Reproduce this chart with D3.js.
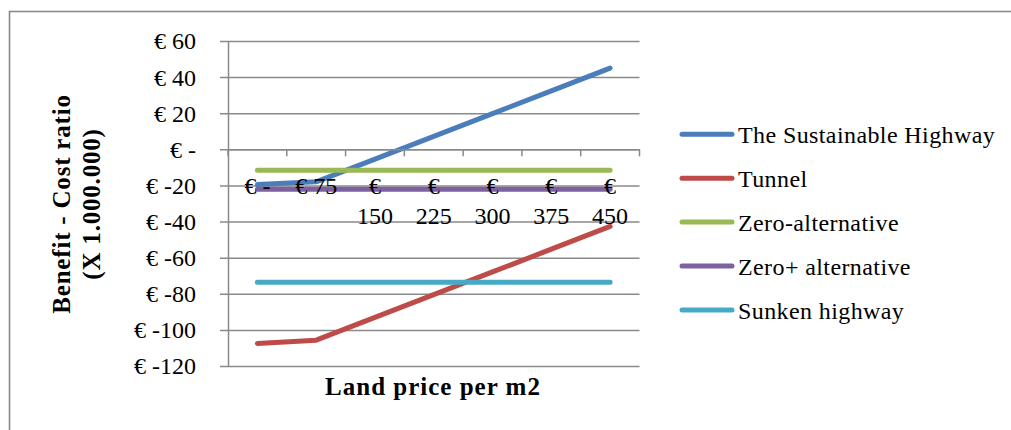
<!DOCTYPE html>
<html><head><meta charset="utf-8">
<script src="https://cdn.jsdelivr.net/npm/d3@7"></script>
<style>html,body{margin:0;padding:0;background:#fff;}svg{display:block;}</style>
</head><body>
<svg id="chart" width="1011" height="430"></svg>
<script>
// ---- data ----
const categories = [0, 75, 150, 225, 300, 375, 450];
const seriesNames = ["The Sustainable Highway", "Tunnel", "Zero-alternative", "Zero+ alternative", "Sunken highway"];
const sustainableHighway = [-19.5, -18, -5.4, 7.2, 19.8, 32.4, 45];
const tunnel = [-107.5, -105.7, -93.1, -80.5, -67.9, -55.3, -42.7];
const zeroAlternative = [-11.6, -11.6, -11.6, -11.6, -11.6, -11.6, -11.6];
const zeroPlusAlternative = [-22.1, -22.1, -22.1, -22.1, -22.1, -22.1, -22.1];
const sunkenHighway = [-73.6, -73.6, -73.6, -73.6, -73.6, -73.6, -73.6];
const yTicks = [60, 40, 20, 0, -20, -40, -60, -80, -100, -120];
const seriesColors = ["#4A7EBB", "#BE4B48", "#98B954", "#7D60A0", "#46AAC5"];
const yTitleLines = ["Benefit - Cost ratio", "(X 1.000.000)"];
const xTitle = "Land price per m2";

const series = [sustainableHighway, tunnel, zeroAlternative, zeroPlusAlternative, sunkenHighway]
  .map((v, i) => ({name: seriesNames[i], values: v, color: seriesColors[i]}));

const svg = d3.select("#chart");
const FONT = "'Liberation Serif', 'Times New Roman', serif";
const gridColor = "#8a8a8a";

// frame
svg.append("rect").attr("x", 9.5).attr("y", 11.5).attr("width", 1011).attr("height", 430)
  .attr("fill", "none").attr("stroke", "#8a8a8a").attr("stroke-width", 1.6);

const pLeft = 228, pRight = 639.5, pTop = 41, pBottom = 366;
const x = d3.scaleBand().domain(categories).range([pLeft, pRight]);
const y = d3.scaleLinear().domain([-120, 60]).range([pBottom, pTop]);

// y axis with gridlines
const yAxis = d3.axisLeft(y).tickValues(yTicks).tickSizeInner(-(pRight - pLeft)).tickSizeOuter(0)
  .tickFormat(d => d === 0 ? "€ -" : "€ " + d);
const gy = svg.append("g").attr("transform", `translate(${pLeft},0)`).call(yAxis);
gy.select(".domain").attr("stroke", gridColor).attr("stroke-width", 1.5);
gy.selectAll(".tick line").attr("stroke", gridColor).attr("stroke-width", 1.5).attr("x1", -8);
gy.selectAll(".tick text").attr("x", -32).attr("dy", "0.33em")
  .style("font-family", FONT).style("font-size", "24px").attr("fill", "#000");

// x axis at y = 0
const xAxis = d3.axisBottom(x).tickSize(0).tickFormat(d => d === 0 ? "€ -" : "€ " + d);
const gx = svg.append("g").attr("transform", `translate(0,${y(0)})`).call(xAxis);
gx.select(".domain").attr("stroke", gridColor).attr("stroke-width", 1.5);
// tick marks between categories
gx.selectAll(".bound").data(categories.concat([null])).enter().append("line")
  .attr("class", "bound")
  .attr("x1", (d, i) => pLeft + i * x.step()).attr("x2", (d, i) => pLeft + i * x.step())
  .attr("y1", 0).attr("y2", 7).attr("stroke", gridColor).attr("stroke-width", 1.5);

// series lines
const line = d3.line().x((d, i) => x(categories[i]) + x.bandwidth() / 2).y(d => y(d));
svg.append("g").selectAll("path").data(series).enter().append("path")
  .attr("d", d => line(d.values)).attr("fill", "none")
  .attr("stroke", d => d.color).attr("stroke-width", 5).attr("stroke-linecap", "round").attr("stroke-linejoin", "round");

// x tick labels (drawn above lines, wrapped when too wide)
gx.raise();
gx.selectAll(".tick text").each(function(d) {
  const t = d3.select(this);
  const label = t.text();
  t.text(null).attr("y", 45).attr("dy", null)
    .style("font-family", FONT).style("font-size", "24px").attr("fill", "#000");
  const parts = String(d).length > 2 ? label.split(" ") : [label];
  parts.forEach((p, i) => t.append("tspan").attr("x", 0).attr("y", 45 + i * 30).text(p));
});

// y title
const yt = svg.append("text").attr("transform", "translate(0,204) rotate(-90)")
  .attr("text-anchor", "middle").style("font-family", FONT).style("font-size", "25px")
  .style("font-weight", "bold").style("letter-spacing", "0.8px").attr("fill", "#000");
yTitleLines.forEach((l, i) => yt.append("tspan").attr("x", 0).attr("y", 70 + i * 30).text(l));

// x title
svg.append("text").attr("x", 433).attr("y", 395).attr("text-anchor", "middle")
  .style("font-family", FONT).style("font-size", "25px").style("font-weight", "bold")
  .style("letter-spacing", "1px").attr("fill", "#000").text(xTitle);

// legend
const lg = svg.append("g").selectAll("g").data(series).enter().append("g")
  .attr("transform", (d, i) => `translate(680,${134.3 + i * 43.9})`);
lg.append("line").attr("x1", 2).attr("x2", 52).attr("stroke", d => d.color)
  .attr("stroke-width", 5).attr("stroke-linecap", "round");
lg.append("text").attr("x", 58).attr("y", 9).style("font-family", FONT).style("font-size", "24px")
  .style("letter-spacing", "0.4px").attr("fill", "#000").text(d => d.name);
</script>
</body></html>
